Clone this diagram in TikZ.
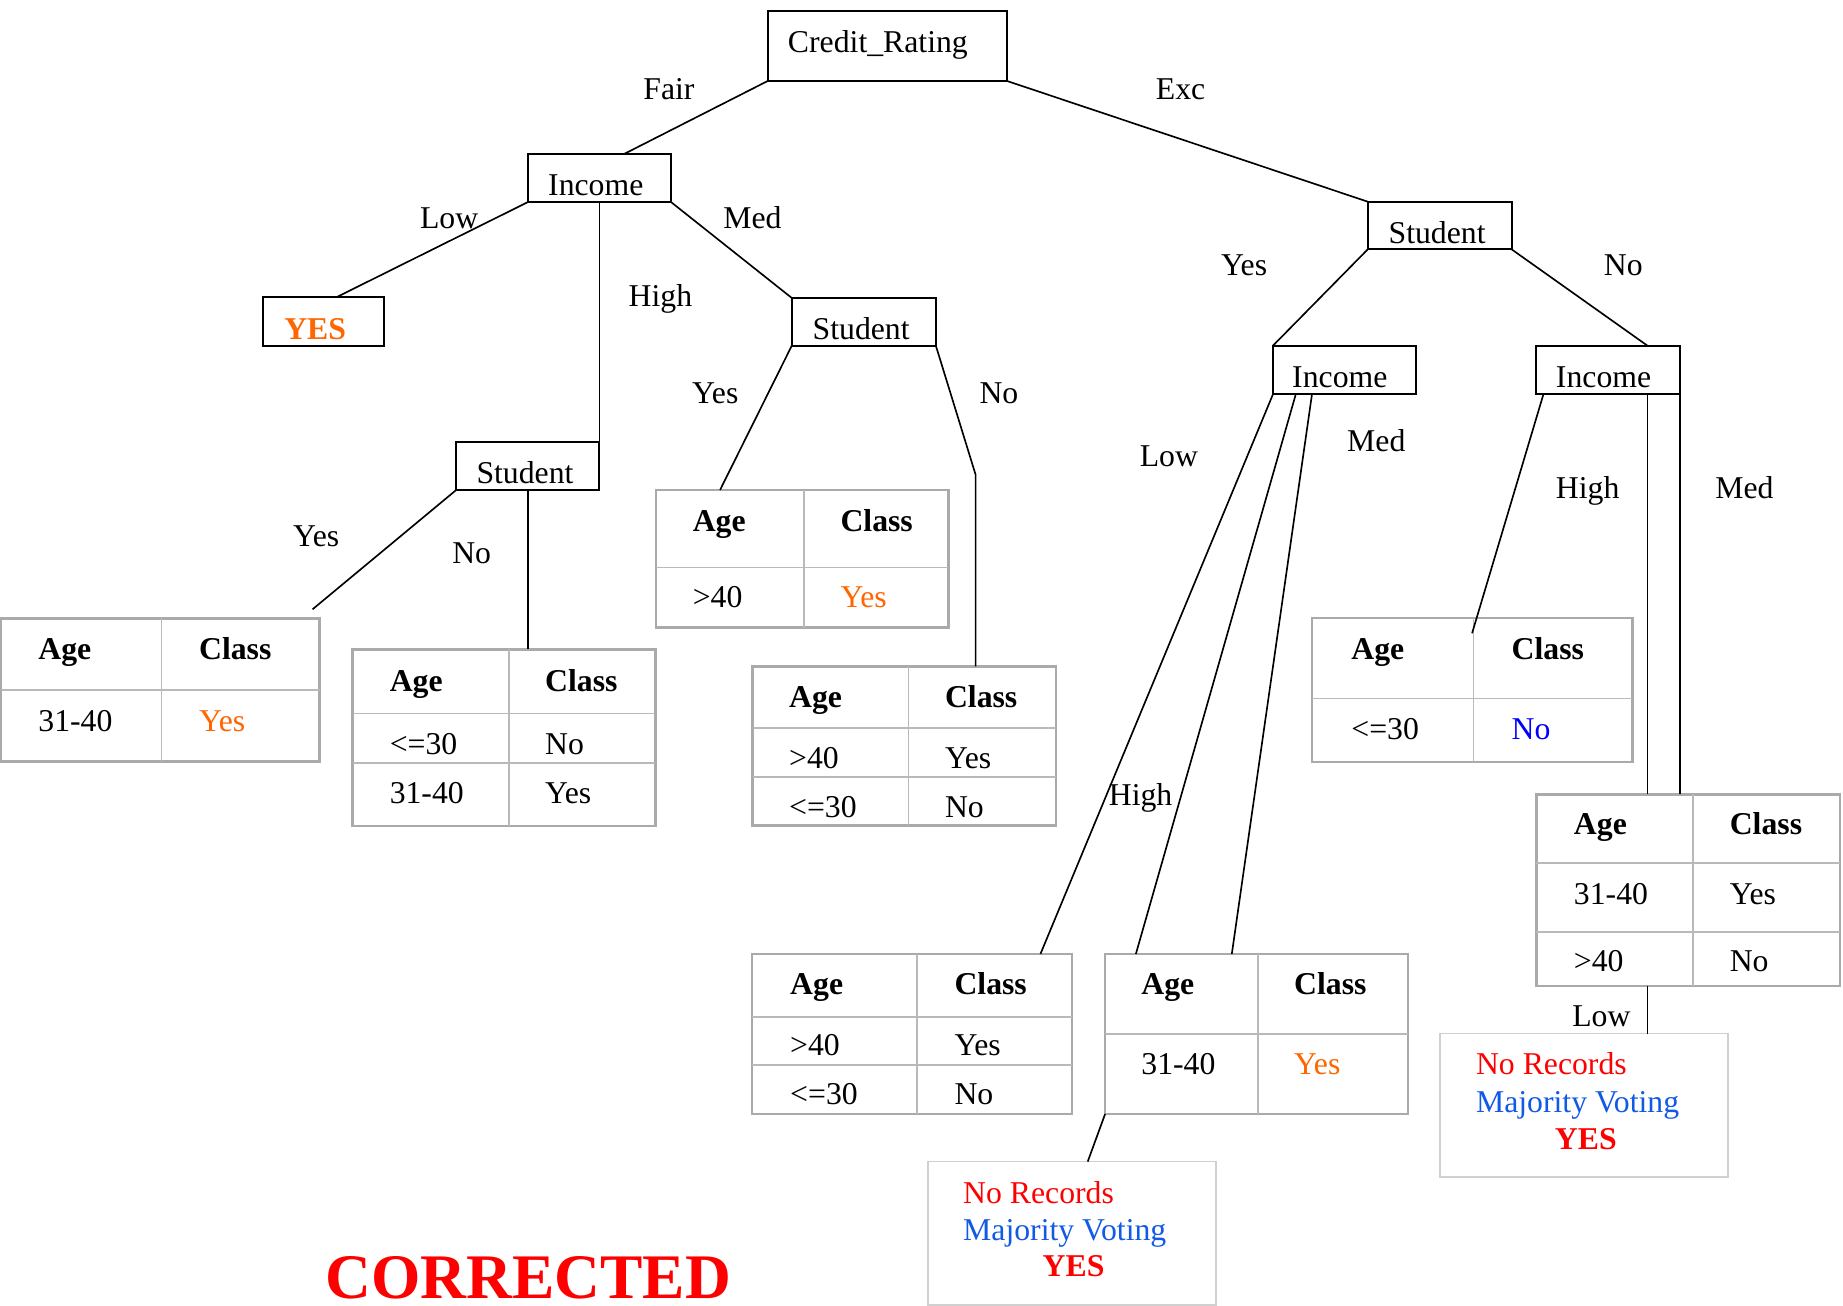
\documentclass[tikz,border=0pt]{standalone}
\usepackage{fontspec}
\setmainfont{Liberation Serif}
\usetikzlibrary{fit,calc}
\newcommand{\myfs}{\fontsize{13.5}{16}\selectfont}
\definecolor{orng}{RGB}{255,102,0}
\definecolor{blueA}{RGB}{0,0,255}
\definecolor{blueB}{RGB}{17,90,230}
\definecolor{redA}{RGB}{255,0,0}
\definecolor{tabgray}{RGB}{170,170,170}
\definecolor{tabgrayB}{RGB}{185,185,185}
\definecolor{recgray}{RGB}{208,208,208}
\begin{document}
\begin{tikzpicture}[x=0.5pt,y=-0.5pt,
  tree/.style={draw, line width=0.85pt, inner sep=0pt, outer sep=0pt, fill=white},
  tab/.style={draw=tabgray, line width=1.1pt, inner sep=0pt, outer sep=0pt, fill=white},
  tabline/.style={draw=tabgrayB, line width=0.7pt},
  rec/.style={draw=recgray, line width=0.7pt, inner sep=0pt, outer sep=0pt, fill=white},
  edge/.style={line width=0.7pt},
  t/.style={anchor=base west, inner sep=0pt, font=\myfs},
  tb/.style={t, font=\myfs\bfseries}]
\useasboundingbox (0,0) rectangle (1568,1111);

% ---------- tree boxes ----------
\node[tree, fit={(653,9) (857,69)}] (cr) {};
\node[t] (crt) at (670,45) {Credit\_Rating};
\node[tree, fit={(449,131) (571,172)}] (inc1) {};
\node[t] (inc1t) at (466,166.5) {Income};
\node[tree, fit={(224,253) (326.5,294.4)}] (yes1) {};
\node[tb, text=orng] (yes1t) at (241.5,288.7) {YES};
\node[tree, fit={(388,376) (510,417)}] (stu2) {};
\node[t] (stu2t) at (405,411.5) {Student};
\node[tree, fit={(673.5,253.4) (796.3,294.4)}] (stu1) {};
\node[t] (stu1t) at (691,288.8) {Student};
\node[tree, fit={(1163.7,171.6) (1286,212.1)}] (stuR) {};
\node[t] (stuRt) at (1181,207) {Student};
\node[tree, fit={(1083,294.1) (1204.7,335.5)}] (incY) {};
\node[t] (incYt) at (1099,330) {Income};
\node[tree, fit={(1306.5,294.1) (1429.3,335.5)}] (incN) {};
\node[t] (incNt) at (1323.4,330) {Income};

% ---------- tables ----------
% T1
\node[tab, fit={(0.8,526) (271.9,648)}] (t1) {};
\draw[tabline] (137.5,526) -- (137.5,648);
\draw[tabline] (0.8,587) -- (271.9,587);
\node[tb] (t1a) at (32.3,561.5) {Age};
\node[tb] (t1b) at (169,561.5) {Class};
\node[t] (t1c) at (32.3,622.5) {31-40};
\node[t, text=orng] (t1d) at (169,622.5) {Yes};
% T2
\node[tab, fit={(300,552.4) (557.6,702.8)}] (t2) {};
\draw[tabline] (433,552.4) -- (433,702.8);
\draw[tabline] (300,606.9) -- (557.6,606.9);
\draw[tabline] (300,648.9) -- (557.6,648.9);
\node[tb] (t2a) at (331.2,588.5) {Age};
\node[tb] (t2b) at (463.4,588.5) {Class};
\node[t] (t2c) at (331.2,641.5) {<=30};
\node[t] (t2d) at (463.4,641.5) {No};
\node[t] (t2e) at (331.2,683.5) {31-40};
\node[t] (t2f) at (463.4,683.5) {Yes};
% T3
\node[tab, fit={(558,416.9) (806.8,533.9)}] (t3) {};
\draw[tabline] (684,416.9) -- (684,533.9);
\draw[tabline] (558,482.8) -- (806.8,482.8);
\node[tb] (t3a) at (589,452.4) {Age};
\node[tb] (t3b) at (714.7,452.4) {Class};
\node[t] (t3c) at (589,517.2) {>40};
\node[t, text=orng] (t3d) at (714.7,517.2) {Yes};
% T4
\node[tab, fit={(640.4,567) (898.4,702.5)}] (t4) {};
\draw[tabline] (773,567) -- (773,702.5);
\draw[tabline] (640.4,619.6) -- (898.4,619.6);
\draw[tabline] (640.4,661.2) -- (898.4,661.2);
\node[tb] (t4a) at (671,602.3) {Age};
\node[tb] (t4b) at (803.6,602.3) {Class};
\node[t] (t4c) at (671,653.9) {>40};
\node[t] (t4d) at (803.6,653.9) {Yes};
\node[t] (t4e) at (671,695.5) {<=30};
\node[t] (t4f) at (803.6,695.5) {No};
% T5
\node[tab, fit={(639.8,811.6) (912,947.8)}] (t5) {};
\draw[tabline] (780.4,811.6) -- (780.4,947.8);
\draw[tabline] (639.8,865) -- (912,865);
\draw[tabline] (639.8,906.3) -- (912,906.3);
\node[tb] (t5a) at (671.9,846.5) {Age};
\node[tb] (t5b) at (811.7,846.5) {Class};
\node[t] (t5c) at (671.9,898.2) {>40};
\node[t] (t5d) at (811.7,898.2) {Yes};
\node[t] (t5e) at (671.9,940.1) {<=30};
\node[t] (t5f) at (811.7,940.1) {No};
% T6
\node[tab, fit={(940.2,811.6) (1198,947.8)}] (t6) {};
\draw[tabline] (1070.3,811.6) -- (1070.3,947.8);
\draw[tabline] (940.2,879.7) -- (1198,879.7);
\node[tb] (t6a) at (970.7,846.5) {Age};
\node[tb] (t6b) at (1100.7,846.5) {Class};
\node[t] (t6c) at (970.7,914) {31-40};
\node[t, text=orng] (t6d) at (1100.7,914) {Yes};
% T7
\node[tab, fit={(1116.3,525.8) (1388.8,648.2)}] (t7) {};
\draw[tabline] (1253.6,525.8) -- (1253.6,648.2);
\draw[tabline] (1116.3,594.4) -- (1388.8,594.4);
\node[tb] (t7a) at (1149.3,560.9) {Age};
\node[tb] (t7b) at (1285.7,560.9) {Class};
\node[t] (t7c) at (1149.3,629.3) {<=30};
\node[t, text=blueA] (t7d) at (1285.7,629.3) {No};
% T8
\node[tab, fit={(1307,675.9) (1565.6,838.7)}] (t8) {};
\draw[tabline] (1440.4,675.9) -- (1440.4,838.7);
\draw[tabline] (1307,734.5) -- (1565.6,734.5);
\draw[tabline] (1307,793.1) -- (1565.6,793.1);
\node[tb] (t8a) at (1338.7,709.7) {Age};
\node[tb] (t8b) at (1471.3,709.7) {Class};
\node[t] (t8c) at (1338.7,769.3) {31-40};
\node[t] (t8d) at (1471.3,769.3) {Yes};
\node[t] (t8e) at (1338.7,826.3) {>40};
\node[t] (t8f) at (1471.3,826.3) {No};

% ---------- no-record boxes ----------
\node[rec, fit={(789.4,988.3) (1034.4,1110.5)}] (nr1) {};
\node[t, text=redA] (nr1a) at (819.1,1023.8) {No Records};
\node[t, text=blueB] (nr1b) at (819.1,1055.5) {Majority Voting};
\node[tb, text=redA] (nr1c) at (886.7,1086.2) {YES};
\node[rec, fit={(1225,879.4) (1470.4,1001.5)}] (nr2) {};
\node[t, text=redA] (nr2a) at (1255.4,914.3) {No Records};
\node[t, text=blueB] (nr2b) at (1255.4,946.8) {Majority Voting};
\node[tb, text=redA] (nr2c) at (1322.5,977.7) {YES};

% ---------- connectors ----------
\coordinate (e1) at (265.9,518.4);
\draw[edge] (cr.south west) -- ($(inc1.north west)+(82,0)$);
\draw[edge] (cr.south east) -- (stuR.north west);
\draw[edge] (inc1.south west) -- ($(yes1.north west)+(62,0)$);
\draw[edge] (stu2.north east |- inc1.south) -- (stu2.north east);
\draw[edge] (inc1.south east) -- (stu1.north west);
\draw[edge] (stu2.south west) -- (e1);
\draw[edge] (stu2.south) -- (stu2.south |- t2.north);
\draw[edge] (stu1.south west) -- ($(t3.north west)+(54.6,0)$);
\draw[edge] (stu1.south east) -- ($(t4.north west)+(189.6,-163.2)$) -- ($(t4.north west)+(189.6,0)$);
\draw[edge] (stuR.south west) -- (incY.north west);
\draw[edge] (stuR.south east) -- ($(incN.north east)+(-27.7,0)$);
\draw[edge] (incY.south west) -- ($(t5.north east)+(-26.8,0)$);
\draw[edge] ($(incY.south west)+(19.4,0)$) -- ($(t6.north west)+(26.2,0)$);
\draw[edge] ($(incY.south west)+(33.2,0)$) -- ($(t6.north west)+(107.8,0)$);
\draw[edge] (t6.south west) -- ($(nr1.north west)+(136,0)$);
\draw[edge] ($(incN.south west)+(6.6,0)$) -- ($(t7.north west)+(136.1,13)$);
\draw[edge] ($(incN.south east)+(-27.7,0)$) -- ($(t8.north west)+(94.6,0)$);
\draw[edge] ($(t8.south west)+(94.6,0)$) -- ($(nr2.north west)+(176.6,0)$);
\draw[edge] (incN.south east) -- (incN.south east |- t8.north);

% ---------- branch labels ----------
\node[t] (lfair) at (547,85) {Fair};
\node[t] (lexc) at (983,85) {Exc};
\node[t] (llow1) at (357,194) {Low};
\node[t] (lmed1) at (615,194) {Med};
\node[t] (lhigh1) at (534.5,261) {High};
\node[t] (lyes2) at (588.5,343) {Yes};
\node[t] (lno2) at (833,343) {No};
\node[t] (lyes3) at (249,465) {Yes};
\node[t] (lno3) at (384.4,479.3) {No};
\node[t] (lyes4) at (1038.4,234) {Yes};
\node[t] (lno4) at (1364.2,234) {No};
\node[t] (llow5) at (969.3,397) {Low};
\node[t] (lmed5) at (1145.8,384.3) {Med};
\node[t] (lhigh5) at (943,685) {High};
\node[t] (lhigh6) at (1323.4,424) {High};
\node[t] (lmed6) at (1459,424) {Med};
\node[t] (llow6) at (1337.3,873.5) {Low};

% ---------- title ----------
\node[anchor=base west, inner sep=0pt, text=redA, font=\fontsize{27}{32}\selectfont\bfseries] (corr) at (276.5,1105) {CORRECTED};
\end{tikzpicture}
\end{document}
